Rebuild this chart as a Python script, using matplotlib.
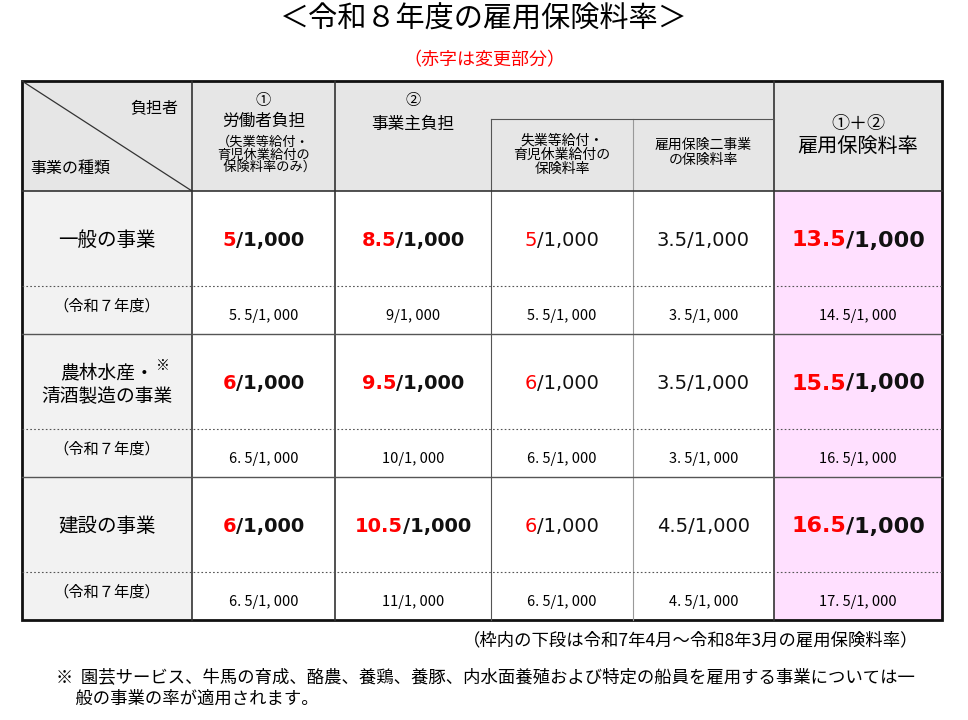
import matplotlib
matplotlib.use("Agg")
import matplotlib.pyplot as plt
from matplotlib.patches import Rectangle

JP = ['Noto Sans CJK JP', 'DejaVu Sans']
plt.rcParams['font.family'] = JP

title = "＜令和８年度の雇用保険料率＞"
subtitle = "（赤字は変更部分）"
row_names = ["一般の事業", "農林水産・\n清酒製造の事業", "建設の事業"]
prev_label = "（令和７年度）"
# main values: (red part, black part)
worker = [("5", "/1,000"), ("6", "/1,000"), ("6", "/1,000")]
employer = [("8.5", "/1,000"), ("9.5", "/1,000"), ("10.5", "/1,000")]
unemp = [("5", "/1,000"), ("6", "/1,000"), ("6", "/1,000")]
two_biz = [("", "3.5/1,000"), ("", "3.5/1,000"), ("", "4.5/1,000")]
total = [("13.5", "/1,000"), ("15.5", "/1,000"), ("16.5", "/1,000")]
prev = [["5. 5/1, 000", "9/1, 000", "5. 5/1, 000", "3. 5/1, 000", "14. 5/1, 000"],
        ["6. 5/1, 000", "10/1, 000", "6. 5/1, 000", "3. 5/1, 000", "16. 5/1, 000"],
        ["6. 5/1, 000", "11/1, 000", "6. 5/1, 000", "4. 5/1, 000", "17. 5/1, 000"]]
footnote1 = "（枠内の下段は令和7年4月～令和8年3月の雇用保険料率）"
footnote2 = "※  園芸サービス、牛馬の育成、酪農、養鶏、養豚、内水面養殖および特定の船員を雇用する事業については一\n     般の事業の率が適用されます。"

fig = plt.figure(figsize=(9.68, 7.2), dpi=100)
ax = fig.add_axes([0, 0, 1, 1])
ax.set_xlim(0, 968); ax.set_ylim(720, 0); ax.axis('off')

xs = [22, 192, 335, 491, 633, 774, 942]
top, hb, sub_top = 81, 191, 119
rows = []
y = hb
for i in range(3):
    rows.append((y, y + 95, y + 143))
    y += 143
bottom = y

HEAD = '#e6e6e6'; FIRST = '#f2f2f2'; PINK = '#ffe0ff'
ax.add_patch(Rectangle((xs[0], top), xs[-1]-xs[0], hb-top, fc=HEAD, ec='none'))
ax.add_patch(Rectangle((xs[0], hb), xs[1]-xs[0], bottom-hb, fc=FIRST, ec='none'))
ax.add_patch(Rectangle((xs[5], hb), xs[6]-xs[5], bottom-hb, fc=PINK, ec='none'))

for x in xs[1:-1]:
    if x == xs[3]:
        ax.plot([x, x], [sub_top, bottom], color='#555555', lw=0.8)
    elif x == xs[4]:
        ax.plot([x, x], [sub_top, bottom], color='#999999', lw=0.8)
    else:
        ax.plot([x, x], [top, bottom], color='#333333', lw=1.2)
ax.plot([xs[3], xs[5]], [sub_top, sub_top], color='#555555', lw=0.8)
ax.plot([xs[0], xs[-1]], [hb, hb], color='#333333', lw=1.2)
for (r0, rd, r1) in rows:
    ax.plot([xs[0], xs[-1]], [rd, rd], color='#555555', lw=0.8, ls=(0, (1.5, 2)))
    if r1 != bottom:
        ax.plot([xs[0], xs[-1]], [r1, r1], color='#555555', lw=1.0)
ax.plot([xs[0], xs[1]], [top, hb], color='#333333', lw=0.9)
ax.add_patch(Rectangle((xs[0], top), xs[-1]-xs[0], bottom-top, fc='none', ec='#111111', lw=2))

ax.text(178, 108, "負担者", ha='right', va='center', fontsize=11.5)
ax.text(30, 168, "事業の種類", ha='left', va='center', fontsize=11.5)
cx = lambda i: (xs[i] + xs[i+1]) / 2
ax.text(cx(1), 101, "①", ha='center', va='center', fontsize=11)
ax.text(cx(1), 121, "労働者負担", ha='center', va='center', fontsize=12)
ax.text(cx(1), 155, "（失業等給付・\n育児休業給付の\n　保険料率のみ）", ha='center', va='center', fontsize=9.5, linespacing=0.95)
ax.text(cx(2), 101, "②", ha='center', va='center', fontsize=11)
ax.text(cx(2), 124, "事業主負担", ha='center', va='center', fontsize=12)
ax.text(cx(3), 155, "失業等給付・\n育児休業給付の\n保険料率", ha='center', va='center', fontsize=10, linespacing=1.0)
ax.text(cx(4), 152, "雇用保険二事業\nの保険料率", ha='center', va='center', fontsize=10, linespacing=1.1)
ax.text(cx(5), 124, "①＋②", ha='center', va='center', fontsize=13)
ax.text(cx(5), 147, "雇用保険料率", ha='center', va='center', fontsize=14.5)

renderer = fig.canvas.get_renderer()

def two_tone(xc, yc, red, black, size, bold):
    w = 'bold' if bold else 'normal'
    fam = ['Verdana', 'DejaVu Sans']
    parts = []
    for s, c in ((red, '#ff0000'), (black, '#111111')):
        if s:
            parts.append(ax.text(0, yc, s, ha='left', va='center', fontsize=size,
                                 fontweight=w, color=c, family=fam))
    widths = [t.get_window_extent(renderer).width for t in parts]
    x = xc - sum(widths) / 2
    for t, wd in zip(parts, widths):
        t.set_x(x); x += wd

for i, (r0, rd, r1) in enumerate(rows):
    ym = (r0 + rd) / 2 + 2
    ys = (rd + r1) / 2 + 6
    name = row_names[i]
    if "\n" in name:
        ax.text(cx(0), ym - 11, "農林水産・", ha='center', va='center', fontsize=13.5)
        ax.text(cx(0) + 56, ym - 17, "※", ha='center', va='center', fontsize=10)
        ax.text(cx(0), ym + 12, "清酒製造の事業", ha='center', va='center', fontsize=13.5)
    else:
        ax.text(cx(0), ym, name, ha='center', va='center', fontsize=14)
    ax.text(cx(0), ys - 10, prev_label, ha='center', va='center', fontsize=11)
    two_tone(cx(1), ym, *worker[i], 14, True)
    two_tone(cx(2), ym, *employer[i], 14, True)
    two_tone(cx(3), ym, *unemp[i], 14, False)
    two_tone(cx(4), ym, *two_biz[i], 14, False)
    two_tone(cx(5), ym, *total[i], 16, True)
    for j, s in enumerate(prev[i]):
        ax.text(cx(j + 1), ys, s, ha='center', va='center', fontsize=10.5,
                family=['Liberation Sans Narrow', 'Noto Sans CJK JP'])

ax.text(484, 20, title, ha='center', va='center', fontsize=21)
ax.text(484, 60, subtitle, ha='center', va='center', fontsize=13, color='#ff0000')
ax.text(918, 640, footnote1, ha='right', va='center', fontsize=12.5)
ax.text(56, 688, footnote2, ha='left', va='center', fontsize=12.5, linespacing=1.2)

fig.savefig("out.png", dpi=100)
